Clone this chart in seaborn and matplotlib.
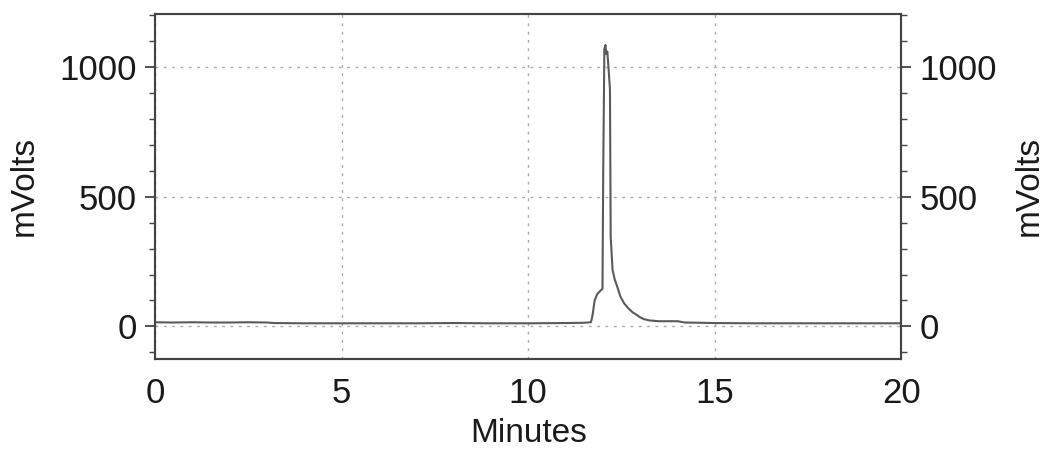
import matplotlib
matplotlib.use("Agg")
import matplotlib.pyplot as plt
import seaborn as sns
import pandas as pd
from matplotlib.ticker import MultipleLocator

# chromatogram trace (minutes, mV)
minutes = [0, 0.5, 1.0, 1.5, 2.0, 2.5, 3.0, 3.2, 4.0, 5.0, 6.0, 7.0, 8.0, 9.0,
           10.0, 11.0, 11.5, 11.68, 11.72, 11.78, 11.85, 11.95, 11.99, 12.01,
           12.04, 12.07, 12.09, 12.12, 12.15, 12.19, 12.21, 12.26, 12.32,
           12.39, 12.47, 12.57, 12.68, 12.8, 12.9, 13.0, 13.1, 13.25, 13.5,
           14.0, 14.2, 15.0, 16.0, 17.0, 18.0, 19.0, 20.0]
mvolts = [16, 15, 16, 15, 15, 16, 15, 13, 12, 12, 12, 12, 13, 12,
          12, 13, 14, 16, 40, 100, 125, 140, 145, 600,
          1070, 1085, 1050, 1060, 1000, 915, 345, 217, 180,
          151, 115, 89, 70, 54, 45, 35, 28, 23, 20,
          20, 15, 13, 12, 12, 12, 12, 12]

x_ticks = [0, 5, 10, 15, 20]
y_ticks = [0, 500, 1000]

df = pd.DataFrame({"Minutes": minutes, "mVolts": mvolts})

sns.set_style("white")
plt.rcParams["font.family"] = ["Liberation Sans", "DejaVu Sans"]
plt.rcParams["text.color"] = "#1a1a1a"
plt.rcParams["axes.labelcolor"] = "#1a1a1a"
plt.rcParams["xtick.labelcolor"] = "#1a1a1a"
plt.rcParams["ytick.labelcolor"] = "#1a1a1a"

fig = plt.figure(figsize=(10.47, 4.63), dpi=100)
ax = fig.add_axes([0.148, 0.225, 0.713, 0.745])

sns.lineplot(data=df, x="Minutes", y="mVolts", ax=ax, color="#5a5a5a",
             linewidth=1.5, estimator=None)

ax.set_xlim(0, 20)
ax.set_ylim(-125, 1205)
ax.set_xticks(x_ticks)
ax.set_yticks(y_ticks)
ax.xaxis.set_minor_locator(MultipleLocator(1))
ax.yaxis.set_minor_locator(MultipleLocator(100))
ax.grid(True, which="major", linestyle=(0, (2, 4)), color="#aaaaaa", linewidth=1)

for s in ax.spines.values():
    s.set_color("#444444")
    s.set_linewidth(1.5)

ax.tick_params(axis="both", which="major", direction="out", length=7,
               width=1.3, color="#444444", labelsize=25, pad=6)
ax.tick_params(axis="both", which="minor", direction="out", length=4,
               width=1, color="#444444")
ax.set_xlabel("Minutes", fontsize=24, labelpad=6)
ax.set_ylabel("mVolts", fontsize=24, labelpad=14)

ax2 = ax.twinx()
ax2.set_ylim(ax.get_ylim())
ax2.set_yticks(y_ticks)
ax2.yaxis.set_minor_locator(MultipleLocator(100))
ax2.tick_params(axis="y", which="major", direction="out", length=7,
                width=1.3, color="#444444", labelsize=25, pad=6)
ax2.tick_params(axis="y", which="minor", direction="out", length=4,
                width=1, color="#444444")
ax2.set_ylabel("mVolts", fontsize=24, labelpad=12)
ax2.yaxis.label.set_rotation(90)
for s in ax2.spines.values():
    s.set_color("#444444")
    s.set_linewidth(1.5)

fig.savefig("out.png", dpi=100)
